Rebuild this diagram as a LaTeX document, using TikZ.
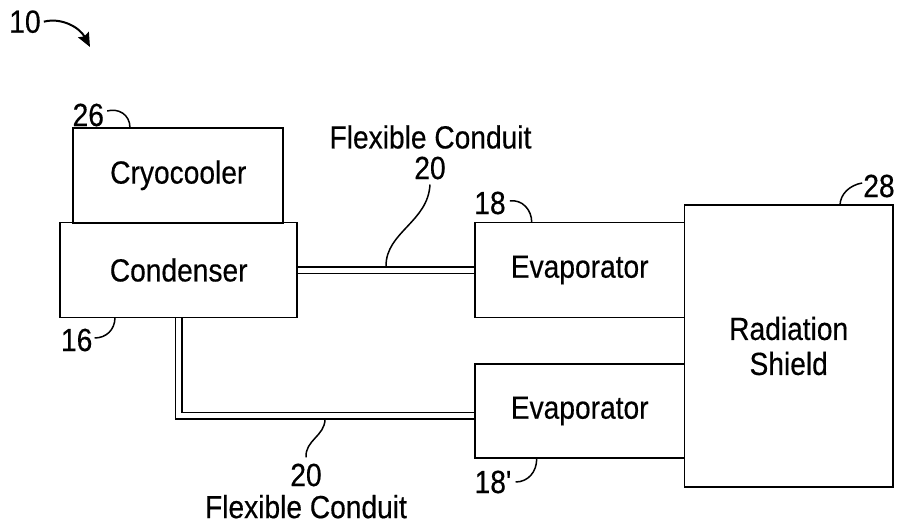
\documentclass[tikz,border=0pt]{standalone}
\usepackage{fontspec}
\newfontfamily\figfont{Liberation Sans}[FakeStretch=0.88,FakeBold=0.4]
\usetikzlibrary{arrows.meta}
\newcommand{\figsize}{\fontsize{32}{35}\selectfont}
\tikzset{
  unit/.style={draw,line width=1.8pt,inner sep=0pt,outer sep=0pt,align=center,font=\figfont\figsize},
  tag/.style={inner sep=0pt,font=\figfont\figsize},
  leader/.style={line width=1.5pt},
  conduit/.style={draw=black,line width=1.5pt,double=white,double distance=5pt,shorten <=0.9pt,shorten >=0.9pt}
}
\begin{document}
\begin{tikzpicture}[x=1pt,y=-1pt]
\useasboundingbox (0,0) rectangle (898,527);
% units
\node[unit,minimum width=210pt,minimum height=95pt] (cryo) at (178.3,175.3) {Cryocooler};
\node[unit,minimum width=237pt,minimum height=95pt] (cond) at (178.7,270) {Condenser};
\node[unit,minimum width=209.5pt,minimum height=95pt] (evapa) at (579.7,270) {Evaporator};
\node[unit,minimum width=209.5pt,minimum height=94pt] (evapb) at (579.7,411) {Evaporator};
\node[unit,minimum width=208.5pt,minimum height=282pt] (shield) at (788.7,346) {Radiation\\Shield};
% conduits
\draw[conduit] (cond.east) -- (evapa.west);
\draw[conduit] (cond.south) |- ([yshift=-4.5pt]evapb.west);
% reference numerals
\node[tag] (l10) at (25,21.7) {10};
\node[tag] (l26) at (88.3,115) {26};
\node[tag] (l16) at (76.7,340) {16};
\node[tag] (l18a) at (490,203) {18};
\node[tag] (l18b) at (493,482) {18'};
\node[tag] (l28) at (879,186) {28};
\node[tag] (l20a) at (430,168) {20};
\node[tag] (l20b) at (306,475) {20};
\node[tag] (fca) at (430.5,137) {Flexible Conduit};
\node[tag] (fcb) at (306,506.7) {Flexible Conduit};
\coordinate (t10) at (90,47);
\coordinate (t26) at (130,128);
\coordinate (t16) at (115,317.3);
\coordinate (t18a) at (531.7,222.5);
\coordinate (t18b) at (536.7,458);
\coordinate (t28) at (840,205.5);
\coordinate (t20a) at (386,266);
\coordinate (t20b) at (325,419);
% leaders
\draw[leader,line width=2pt,-{Stealth[length=14pt,width=12pt,inset=2pt]}] ([xshift=3pt]l10.east) .. controls (62,17) and (80,28) .. (t10);
\draw[leader] ([xshift=3pt,yshift=4pt]l26.east) .. controls (118,108) and (130,114) .. (t26);
\draw[leader] ([xshift=2pt,yshift=2pt]l16.east) .. controls (106,338) and (115,330) .. (t16);
\draw[leader] ([xshift=4pt,yshift=2pt]l18a.east) .. controls (522,199) and (532,210) .. (t18a);
\draw[leader] ([xshift=4pt]l18b.east) .. controls (528,482) and (537,472) .. (t18b);
\draw[leader] ([xshift=-1pt,yshift=3pt]l28.west) .. controls (850,185) and (840,194) .. (t28);
\draw[leader] ([yshift=-5pt]l20a.south) .. controls (428,222) and (386,232) .. (t20a);
\draw[leader] ([yshift=6pt]l20b.north) .. controls (305,440) and (325,436) .. (t20b);
\end{tikzpicture}
\end{document}
